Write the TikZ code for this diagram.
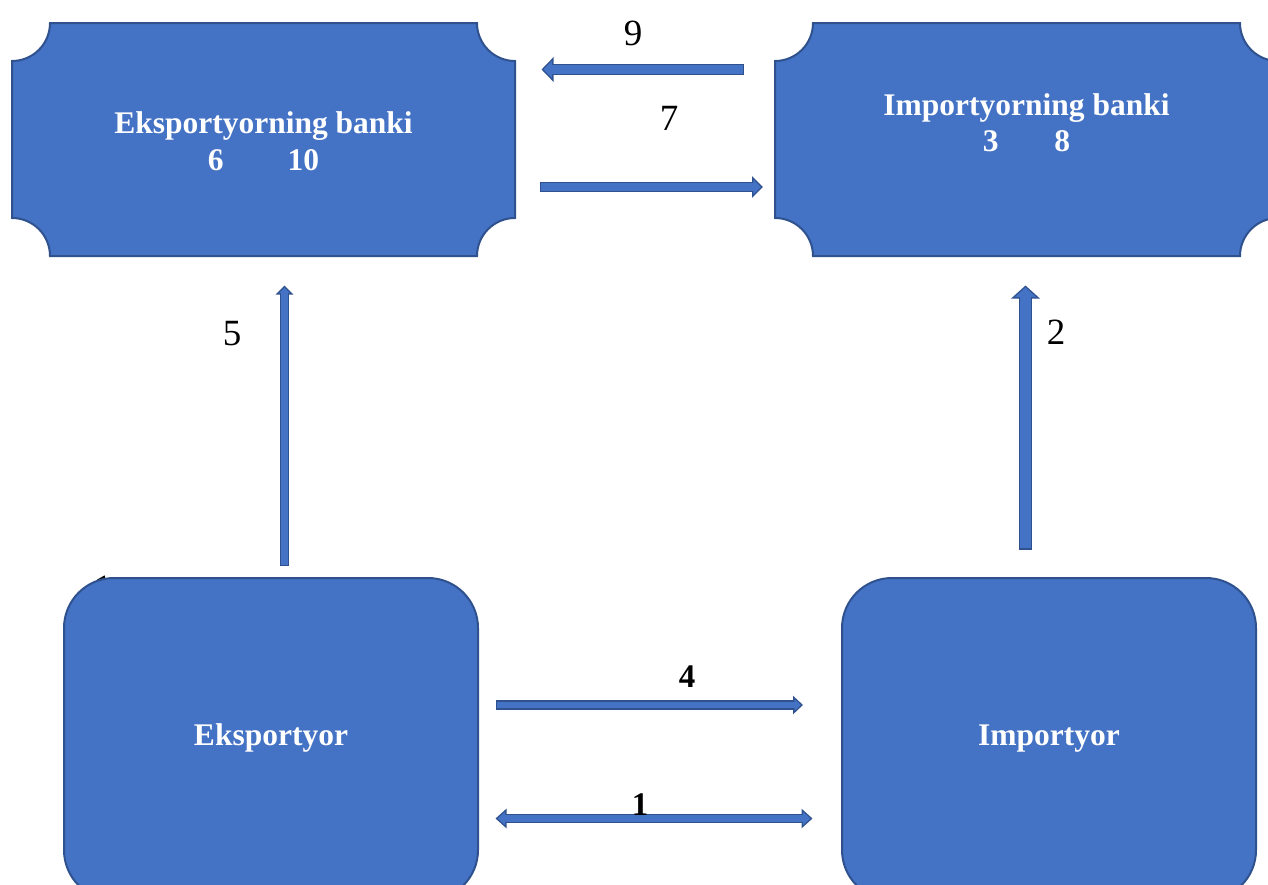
\documentclass[tikz,border=0pt]{standalone}
\usepackage{fontspec}
\setmainfont{Liberation Serif}
\usetikzlibrary{arrows.meta}
\definecolor{ablue}{HTML}{4472C4}
\definecolor{aborder}{HTML}{2F528F}
\begin{document}
\begin{tikzpicture}[x=1pt,y=1pt,
  boxtxt/.style={text=white, font=\fontsize{31.5}{36.5}\selectfont\bfseries, align=center, inner sep=0pt},
  numlbl/.style={font=\fontsize{37}{40}\selectfont, inner sep=0pt, anchor=base},
  boldlbl/.style={font=\fontsize{33}{36}\selectfont\bfseries, inner sep=0pt, anchor=base},
  shapefill/.style={fill=ablue, draw=aborder, line width=2pt},
  holder/.style={draw=none, inner sep=0pt, minimum width=503pt, minimum height=233pt},
  rbox/.style={shapefill, rounded corners=50pt, inner sep=0pt, minimum width=414pt, minimum height=322pt},
  arrout/.style={draw=aborder, line width=#1},
  arrin/.style={draw=ablue, line width=#1}
]
\useasboundingbox (0,0) rectangle (1268,-884);
\clip (0,0) rectangle (1268,-884);
\fill[white] (0,0) rectangle (1268,-884);

% hidden label fragment behind exporter box
\node[numlbl, anchor=base] (hid) at (103,-600) {1};

% top boxes (concave corners)
\draw[shapefill] (50,-23) -- (477,-23) arc[start angle=180,end angle=270,radius=38pt]
  -- (515,-218) arc[start angle=90,end angle=180,radius=38pt]
  -- (50,-256) arc[start angle=0,end angle=90,radius=38pt]
  -- (12,-61) arc[start angle=270,end angle=360,radius=38pt] -- cycle;
\node[holder] (ebank) at (263.5,-139.5) {};
\draw[shapefill] (813,-23) -- (1240,-23) arc[start angle=180,end angle=270,radius=38pt]
  -- (1278,-218) arc[start angle=90,end angle=180,radius=38pt]
  -- (813,-256) arc[start angle=0,end angle=90,radius=38pt]
  -- (775,-61) arc[start angle=270,end angle=360,radius=38pt] -- cycle;
\node[holder] (ibank) at (1026.5,-139.5) {};

\node[boxtxt] (ebanktxt) at (263.5,-141) {Eksportyorning banki\\6\hspace{64pt}10};
\node[boxtxt] (ibanktxt) at (1026.5,-122.5) {Importyorning banki\\3\hspace{56pt}8};

% bottom boxes
\node[rbox] (exp) at (271,-739) {};
\node[rbox] (imp) at (1049,-739) {};
\node[boxtxt, anchor=base] (exptxt) at (271,-745) {Eksportyor};
\node[boxtxt, anchor=base] (imptxt) at (1049,-745) {Importyor};

% arrow end points
\coordinate (a9s) at (744,-69.5);   \coordinate (a9e) at (541.5,-69.5);
\coordinate (a7s) at (540,-187);    \coordinate (a7e) at (763,-187);
\coordinate (a5s) at (284.5,-566);  \coordinate (a5e) at (284.5,-285.5);
\coordinate (a2s) at (1025.5,-549.5); \coordinate (a2e) at (1025.5,-285.5);
\coordinate (a4s) at (496,-705);    \coordinate (a4e) at (803,-705);
\coordinate (a1s) at (495.5,-818.5); \coordinate (a1e) at (812.5,-818.5);

% arrow 9
\draw[arrout=11pt, -{Triangle[length=12pt,width=24pt]}] (a9s) -- (a9e);
\draw[arrin=8.2pt, -{Triangle[length=8.6pt,width=17.2pt]}, shorten >=2pt, shorten <=1.4pt] (a9s) -- (a9e);
% arrow 7
\draw[arrout=10pt, -{Triangle[length=11pt,width=21pt]}] (a7s) -- (a7e);
\draw[arrin=7.2pt, -{Triangle[length=7.6pt,width=14.5pt]}, shorten >=2pt, shorten <=1.4pt] (a7s) -- (a7e);
% arrow 5
\draw[arrout=9pt, -{Triangle[length=9pt,width=17pt]}] (a5s) -- (a5e);
\draw[arrin=6.2pt, -{Triangle[length=5.6pt,width=10.6pt]}, shorten >=2pt, shorten <=1.4pt] (a5s) -- (a5e);
% arrow 2
\draw[arrout=13pt, -{Triangle[length=13pt,width=28pt]}] (a2s) -- (a2e);
\draw[arrin=10.2pt, -{Triangle[length=9.7pt,width=20.9pt]}, shorten >=1.9pt, shorten <=1.4pt] (a2s) -- (a2e);
% arrow 4
\draw[arrout=9.5pt, -{Triangle[length=10pt,width=18pt]}] (a4s) -- (a4e);
\draw[arrin=6.7pt, -{Triangle[length=6.5pt,width=11.7pt]}, shorten >=2pt, shorten <=1.4pt] (a4s) -- (a4e);
% arrow 1 (double)
\draw[arrout=9pt, {Triangle[length=11pt,width=19pt]}-{Triangle[length=11pt,width=19pt]}] (a1s) -- (a1e);
\draw[arrin=6.2pt, {Triangle[length=7.5pt,width=13pt]}-{Triangle[length=7.5pt,width=13pt]}, shorten >=2.1pt, shorten <=2.1pt] (a1s) -- (a1e);

% labels
\node[numlbl] (l9) at (633,-45) {9};
\node[numlbl] (l7) at (669,-130) {7};
\node[numlbl] (l5) at (232,-345) {5};
\node[numlbl] (l2) at (1056,-344) {2};
\node[boldlbl] (l4) at (687,-687) {4};
\node[boldlbl] (l1) at (640,-815) {1};
\end{tikzpicture}
\end{document}
